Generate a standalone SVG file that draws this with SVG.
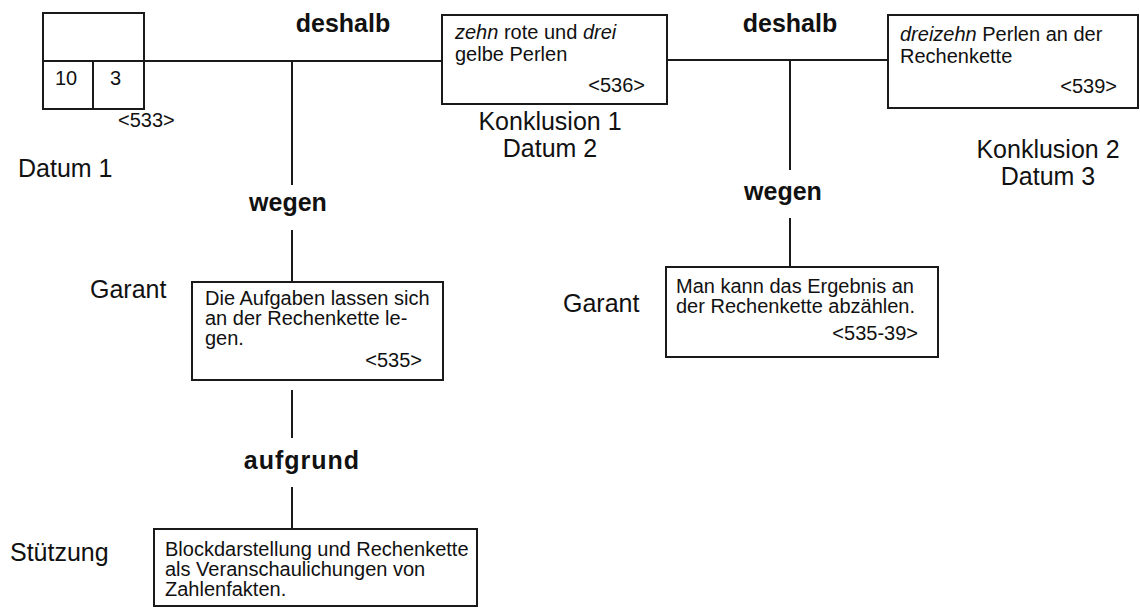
<svg xmlns="http://www.w3.org/2000/svg" width="1140" height="608" viewBox="0 0 1140 608">
<style>
.box{fill:#fff;stroke:#1a1a1a;stroke-width:2}
.ln{stroke:#1a1a1a;stroke-width:2;fill:none}
text{font-family:"Liberation Sans",Arial,Helvetica,sans-serif;fill:#111}
.lab{font-size:25px}
.con{font-size:25px;font-weight:bold}
.bt{font-size:20px}
.it{font-style:italic}
</style>
<rect width="1140" height="608" fill="#fff"/>
<g id="connectors">
<line class="ln" x1="144" y1="61" x2="442" y2="61"/>
<line class="ln" x1="667" y1="60" x2="888" y2="60"/>
<line class="ln" x1="292" y1="61" x2="292" y2="185"/>
<line class="ln" x1="292" y1="230" x2="292" y2="282"/>
<line class="ln" x1="292" y1="390" x2="292" y2="438"/>
<line class="ln" x1="292" y1="487" x2="292" y2="529"/>
<line class="ln" x1="790" y1="60" x2="790" y2="170"/>
<line class="ln" x1="790" y1="218" x2="790" y2="267"/>
<text class="con" x="343" y="32" text-anchor="middle">deshalb</text>
<text class="con" x="790" y="32" text-anchor="middle">deshalb</text>
<text class="con" x="288" y="211" text-anchor="middle">wegen</text>
<text class="con" x="783" y="200" text-anchor="middle">wegen</text>
<text class="con" x="302" y="469" text-anchor="middle" letter-spacing="1">aufgrund</text>
</g>
<g id="datum1">
<rect class="box" x="43" y="13" width="101" height="96"/>
<line class="ln" x1="43" y1="61" x2="144" y2="61"/>
<line class="ln" x1="93" y1="61" x2="93" y2="109"/>
<text class="bt" x="55" y="85">10</text>
<text class="bt" x="110" y="85">3</text>
<text class="bt" x="118" y="127">&lt;533&gt;</text>
<text class="lab" x="18" y="177">Datum 1</text>
</g>
<g id="konklusion1">
<rect class="box" x="442" y="15" width="225" height="89"/>
<text class="bt" x="455" y="39"><tspan class="it">zehn</tspan> rote und <tspan class="it">drei</tspan></text>
<text class="bt" x="455" y="61">gelbe Perlen</text>
<text class="bt" x="645" y="92" text-anchor="end">&lt;536&gt;</text>
<text class="lab" x="550" y="130" text-anchor="middle">Konklusion 1</text>
<text class="lab" x="550" y="157" text-anchor="middle">Datum 2</text>
</g>
<g id="konklusion2">
<rect class="box" x="888" y="15" width="250" height="93"/>
<text class="bt" x="900" y="41"><tspan class="it">dreizehn</tspan>  Perlen an der</text>
<text class="bt" x="900" y="63">Rechenkette</text>
<text class="bt" x="1117" y="93" text-anchor="end">&lt;539&gt;</text>
<text class="lab" x="1048" y="158" text-anchor="middle">Konklusion 2</text>
<text class="lab" x="1048" y="185" text-anchor="middle">Datum 3</text>
</g>
<g id="garant1">
<text class="lab" x="90" y="298">Garant</text>
<rect class="box" x="192" y="282" width="251" height="98"/>
<text class="bt" x="205" y="305">Die Aufgaben lassen sich</text>
<text class="bt" x="205" y="325">an der Rechenkette le-</text>
<text class="bt" x="205" y="345">gen.</text>
<text class="bt" x="422" y="367" text-anchor="end">&lt;535&gt;</text>
</g>
<g id="garant2">
<text class="lab" x="563" y="312">Garant</text>
<rect class="box" x="666" y="267" width="272" height="90"/>
<text class="bt" x="676" y="293">Man kann das Ergebnis an</text>
<text class="bt" x="676" y="313">der Rechenkette abzählen.</text>
<text class="bt" x="918" y="340" text-anchor="end">&lt;535-39&gt;</text>
</g>
<g id="stuetzung">
<text class="lab" x="10" y="561">Stützung</text>
<rect class="box" x="154" y="529" width="323" height="77"/>
<text class="bt" x="165" y="556">Blockdarstellung und Rechenkette</text>
<text class="bt" x="165" y="576">als Veranschaulichungen von</text>
<text class="bt" x="165" y="596">Zahlenfakten.</text>
</g>
</svg>
